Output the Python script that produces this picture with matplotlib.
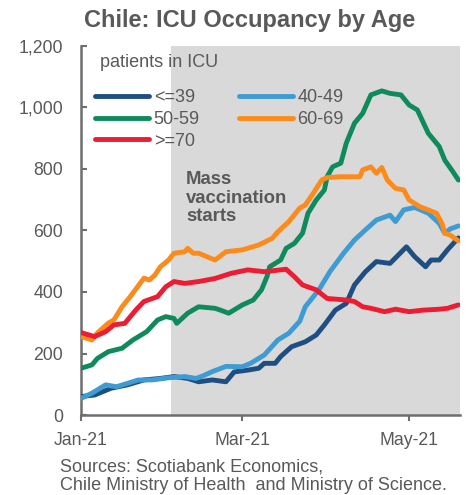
import matplotlib
matplotlib.use("Agg")
import matplotlib.pyplot as plt
import pandas as pd

plt.rcParams['font.family'] = ['Liberation Sans', 'DejaVu Sans']

# ---------------- data ----------------
d_le39 = ["2021-01-01", "2021-01-06", "2021-01-12", "2021-01-18", "2021-01-24", "2021-01-30",
          "2021-02-04", "2021-02-09", "2021-02-13", "2021-02-18", "2021-02-23", "2021-02-26",
          "2021-03-03", "2021-03-07", "2021-03-09", "2021-03-13", "2021-03-15", "2021-03-19",
          "2021-03-24", "2021-03-28", "2021-03-31", "2021-04-04", "2021-04-08", "2021-04-11",
          "2021-04-15", "2021-04-19", "2021-04-24", "2021-04-27", "2021-04-30", "2021-05-03",
          "2021-05-07", "2021-05-09", "2021-05-12", "2021-05-15", "2021-05-19"]
v_le39 = [60, 65, 87, 98, 114, 119, 125, 119, 108, 114, 108, 140, 146, 152, 168, 168, 190, 222,
          238, 260, 293, 341, 363, 423, 466, 499, 493, 520, 547, 515, 482, 504, 504, 537, 576]

d_4049 = ["2021-01-01", "2021-01-05", "2021-01-10", "2021-01-14", "2021-01-22", "2021-01-27",
          "2021-02-02", "2021-02-08", "2021-02-12", "2021-02-14", "2021-02-18", "2021-02-23",
          "2021-03-01", "2021-03-04", "2021-03-09", "2021-03-14", "2021-03-18", "2021-03-22",
          "2021-03-24", "2021-03-29", "2021-04-02", "2021-04-07", "2021-04-11", "2021-04-15",
          "2021-04-19", "2021-04-24", "2021-04-26", "2021-04-29", "2021-05-03", "2021-05-08",
          "2021-05-12", "2021-05-14", "2021-05-16", "2021-05-19"]
v_4049 = [54, 71, 98, 92, 114, 114, 121, 125, 119, 125, 141, 158, 157, 168, 195, 244, 266, 305,
          352, 407, 466, 526, 569, 602, 634, 650, 629, 667, 675, 656, 623, 591, 605, 615]

d_5059 = ["2021-01-01", "2021-01-05", "2021-01-07", "2021-01-11", "2021-01-16", "2021-01-20",
          "2021-01-25", "2021-01-29", "2021-02-01", "2021-02-04", "2021-02-05", "2021-02-09",
          "2021-02-13", "2021-02-19", "2021-02-21", "2021-02-24", "2021-03-01", "2021-03-05",
          "2021-03-08", "2021-03-10", "2021-03-11", "2021-03-15", "2021-03-17", "2021-03-20",
          "2021-03-23", "2021-03-25", "2021-03-28", "2021-03-31", "2021-04-01", "2021-04-03",
          "2021-04-06", "2021-04-08", "2021-04-11", "2021-04-14", "2021-04-17", "2021-04-21",
          "2021-04-24", "2021-04-28", "2021-05-01", "2021-05-04", "2021-05-08", "2021-05-12",
          "2021-05-14", "2021-05-17", "2021-05-19"]
v_5059 = [152, 163, 184, 206, 217, 244, 271, 309, 320, 314, 298, 331, 352, 347, 341, 331, 358,
          374, 407, 450, 482, 504, 542, 558, 591, 656, 699, 732, 775, 807, 819, 884, 949, 981,
          1041, 1054, 1046, 1041, 1008, 992, 916, 873, 829, 791, 764]

d_6069 = ["2021-01-01", "2021-01-05", "2021-01-07", "2021-01-11", "2021-01-13", "2021-01-16",
          "2021-01-19", "2021-01-24", "2021-01-26", "2021-01-28", "2021-01-30", "2021-02-02",
          "2021-02-04", "2021-02-08", "2021-02-09", "2021-02-11", "2021-02-13", "2021-02-19",
          "2021-02-23", "2021-03-01", "2021-03-07", "2021-03-12", "2021-03-14", "2021-03-18",
          "2021-03-22", "2021-03-24", "2021-03-27", "2021-03-30", "2021-04-01", "2021-04-06",
          "2021-04-13", "2021-04-14", "2021-04-17", "2021-04-19", "2021-04-21", "2021-04-23",
          "2021-04-26", "2021-04-29", "2021-05-01", "2021-05-05", "2021-05-08", "2021-05-11",
          "2021-05-13", "2021-05-14", "2021-05-16", "2021-05-19"]
v_6069 = [255, 244, 267, 299, 309, 352, 385, 445, 439, 455, 482, 504, 526, 531, 542, 526, 526,
          504, 531, 537, 553, 575, 596, 629, 673, 683, 722, 764, 772, 775, 775, 797, 807, 786,
          805, 764, 737, 732, 699, 677, 667, 656, 623, 591, 585, 566]

d_ge70 = ["2021-01-01", "2021-01-06", "2021-01-10", "2021-01-13", "2021-01-17", "2021-01-21",
          "2021-01-24", "2021-01-29", "2021-02-01", "2021-02-04", "2021-02-08", "2021-02-13",
          "2021-02-19", "2021-02-25", "2021-03-03", "2021-03-09", "2021-03-17", "2021-03-20",
          "2021-03-23", "2021-03-28", "2021-04-01", "2021-04-08", "2021-04-11", "2021-04-14",
          "2021-04-17", "2021-04-22", "2021-04-26", "2021-05-01", "2021-05-06", "2021-05-12",
          "2021-05-15", "2021-05-19"]
v_ge70 = [268, 255, 271, 293, 298, 341, 369, 385, 417, 434, 428, 434, 444, 461, 472, 466, 474,
          450, 423, 407, 379, 374, 369, 352, 347, 336, 344, 336, 341, 344, 347, 358]

series_labels = ["<=39", "40-49", "50-59", "60-69", ">=70"]
vacc_start = "2021-02-03"
x_end = "2021-05-19 14:00"
x_ticks = ["2021-01-01", "2021-03-01", "2021-05-01"]
x_ticklabels = ["Jan-21", "Mar-21", "May-21"]
y_ticks = [0, 200, 400, 600, 800, 1000, 1200]
y_ticklabels = ["0", "200", "400", "600", "800", "1,000", "1,200"]

# ---------------- styling ----------------
C_TXT = "#595959"
C_AX = "#6e6e6e"
colors = {"<=39": "#1f4e82", "40-49": "#3e9bd3", "50-59": "#0f8a5b",
          "60-69": "#fd8b1b", ">=70": "#ec1c33"}

W, H = 471, 495
fig = plt.figure(figsize=(W / 100, H / 100), dpi=100)
ax = fig.add_axes([81 / W, 1 - 415 / H, (460 - 81) / W, (415 - 46) / H])

ax.set_xlim(pd.Timestamp("2021-01-01"), pd.Timestamp(x_end))
ax.set_ylim(0, 1200)

ax.axvspan(pd.Timestamp(vacc_start), pd.Timestamp(x_end),
           color="#d9d9d9", lw=0, zorder=0)

series = {"<=39": (d_le39, v_le39), "40-49": (d_4049, v_4049), "50-59": (d_5059, v_5059),
          "60-69": (d_6069, v_6069), ">=70": (d_ge70, v_ge70)}
handles = {}
for lab in series_labels:
    d, v = series[lab]
    ln, = ax.plot(pd.to_datetime(d), v, color=colors[lab], lw=3.5,
                  solid_capstyle="round", solid_joinstyle="round", label=lab, zorder=3)
    handles[lab] = ln

for s in ["top", "right"]:
    ax.spines[s].set_visible(False)
for s in ["left", "bottom"]:
    ax.spines[s].set_color(C_AX)
    ax.spines[s].set_linewidth(1.8)

ax.set_yticks(y_ticks)
ax.set_yticklabels(y_ticklabels)
ax.set_xticks(pd.to_datetime(x_ticks))
ax.set_xticklabels(x_ticklabels)
ax.tick_params(axis="y", direction="in", length=4.5, width=1.5, color=C_AX,
               labelcolor=C_TXT, labelsize=12.7, pad=13)
ax.tick_params(axis="x", direction="out", length=4.5, width=1.5, color=C_AX,
               labelcolor=C_TXT, labelsize=12.7, pad=8)

# legend
order = ["<=39", "50-59", ">=70", "40-49", "60-69"]
leg = ax.legend([handles[k] for k in order], order, ncol=2, frameon=False,
                loc="upper left", bbox_to_anchor=(95 / W, 1 - 89 / H),
                bbox_transform=fig.transFigure, borderaxespad=0, borderpad=0,
                handlelength=3.0, handletextpad=0.25, columnspacing=2.15,
                labelspacing=0.27, fontsize=13)
for t in leg.get_texts():
    t.set_color(C_TXT)

fig.text(100 / W, 1 - 63 / H, "patients in ICU", fontsize=13, color=C_TXT, va="center")

fig.text(186 / W, 1 - 171 / H, "Mass\nvaccination\nstarts", fontsize=13.3,
         fontweight="bold", color=C_TXT, va="top", ha="left", linespacing=1.12)

fig.text(250 / W, 1 - 21 / H, "Chile: ICU Occupancy by Age", fontsize=17,
         fontweight="bold", color=C_TXT, ha="center", va="center")

fig.text(60 / W, 1 - 467 / H, "Sources: Scotiabank Economics,", fontsize=13,
         color=C_TXT, va="center")
fig.text(60 / W, 1 - 486 / H, "Chile Ministry of Health  and Ministry of Science.",
         fontsize=13, color=C_TXT, va="center")

fig.savefig("out.png", dpi=100)
